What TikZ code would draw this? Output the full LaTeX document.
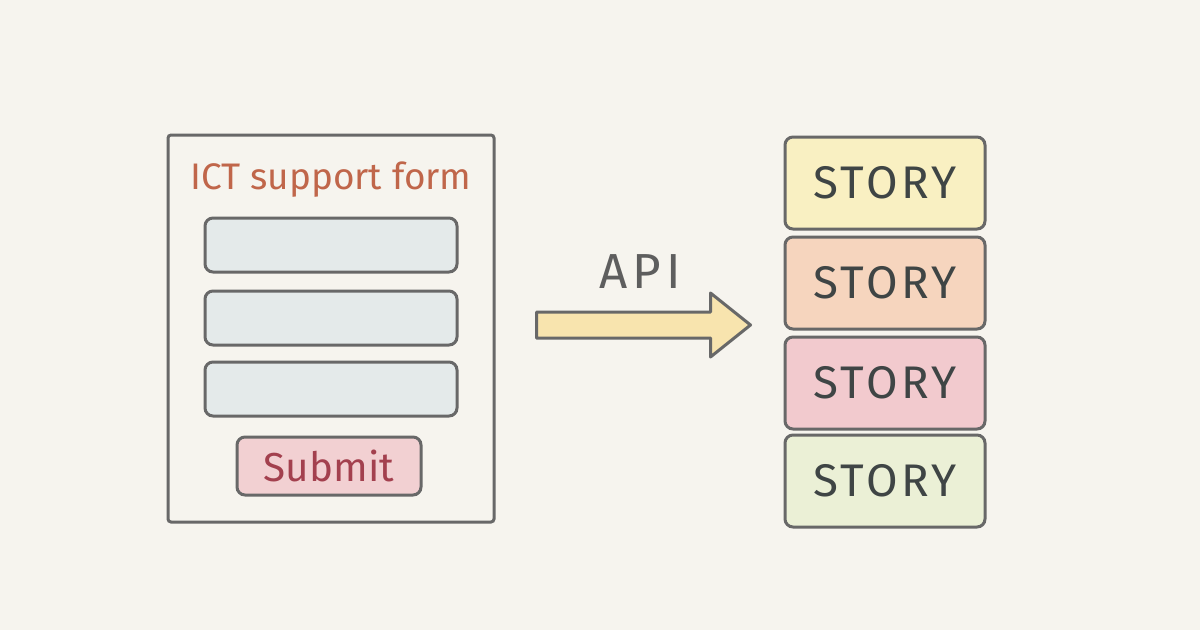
\documentclass[tikz,border=0pt]{standalone}
\usepackage{fontspec}
\setmainfont{Fira Sans}
\usepackage{xcolor}
\usepackage{tikz}
\usetikzlibrary{calc, positioning}

\definecolor{paper}{HTML}{F6F4EE}
\definecolor{pencil}{HTML}{686868}
\definecolor{ink}{HTML}{3F4545}
\definecolor{titleInk}{HTML}{C0664A}
\definecolor{fieldFill}{HTML}{E4EAEA}
\definecolor{submitFill}{HTML}{F2D0D2}
\definecolor{submitInk}{HTML}{A3404E}
\definecolor{arrowFill}{HTML}{F8E4AE}
\definecolor{storyYellow}{HTML}{F9F0C2}
\definecolor{storyOrange}{HTML}{F6D5BE}
\definecolor{storyPink}{HTML}{F2CACE}
\definecolor{storyGreen}{HTML}{EBF0D6}

\newdimen\pxu
\pxu=0.01cm

\tikzset{
	box/.style={draw=pencil, line width=3\pxu, rounded corners=8\pxu, inner sep=0pt},
	field/.style={box, fill=fieldFill, minimum width=252\pxu, minimum height=54\pxu},
	story/.style={box, fill=#1, minimum width=200\pxu, minimum height=92\pxu,
		text=ink, font=\fontsize{13}{15}\selectfont\addfontfeature{LetterSpace=8}}
}

\begin{document}
\begin{tikzpicture}[x=\pxu, y=-\pxu]
			\def\formX{331};
			\def\storyX{885};

			\newcommand{\drawStory}[3]
			{
				\node [story=#3] (#1) at (\storyX,#2) {STORY};
			}

			\fill [paper] (0,0) rectangle (1200,630);
			\useasboundingbox (0,0) rectangle (1200,630);

			\begin{scope}
				\node [box, rounded corners=3\pxu, minimum width=326\pxu, minimum height=387\pxu] (form) at (\formX,328.5) {};
				\node [text=titleInk, font=\fontsize{10.5}{12}\selectfont] (title) at (\formX,180) {ICT support form};
				\node [field] (field1) at (\formX,245) {};
				\node [field] (field2) at (\formX,318) {};
				\node [field] (field3) at (\formX,389) {};
				\node [box, fill=submitFill, minimum width=184\pxu, minimum height=58\pxu, text=submitInk, font=\fontsize{11.5}{13}\selectfont] (submit) at (329,466) {Submit};
			\end{scope}

			\begin{scope}
				\drawStory{story1}{183}{storyYellow}
				\drawStory{story2}{283}{storyOrange}
				\drawStory{story3}{383}{storyPink}
				\drawStory{story4}{481}{storyGreen}
			\end{scope}

			\begin{scope}[line width=3\pxu, draw=pencil, line join=round]
				\coordinate (tail) at ($ (form.east) + (41,-3.5) $);
				\coordinate (tip) at ($ (story2.west) + (-33,42) $);
				\filldraw [fill=arrowFill, draw=pencil] ($ (tail) + (0,-13) $) -- ($ (tip) + (-40,-13) $) -- ($ (tip) + (-40,-32) $) -- (tip) -- ($ (tip) + (-40,32) $) -- ($ (tip) + (-40,13) $) -- ($ (tail) + (0,13) $) -- cycle;
				\node [text=pencil!90!black, font=\fontsize{14}{16}\selectfont\addfontfeature{LetterSpace=10}] (api) at (640,272) {API};
			\end{scope}
		\end{tikzpicture}
\end{document}
